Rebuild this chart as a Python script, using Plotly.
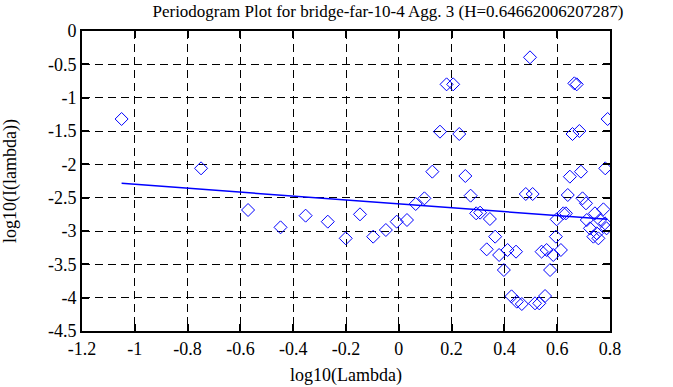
import plotly.graph_objects as go

# Periodogram points (log10(lambda), log10(I(lambda)))
log_lambda = [
    -1.050, -0.749, -0.571, -0.448, -0.353, -0.269, -0.201, -0.147, -0.097, -0.049,
    -0.008, 0.031, 0.064, 0.097, 0.127, 0.156, 0.181, 0.206, 0.229, 0.252,
    0.272, 0.293, 0.308, 0.345, 0.333, 0.365, 0.380, 0.398, 0.412, 0.444,
    0.427, 0.447, 0.466, 0.481, 0.497, 0.507, 0.516, 0.532, 0.554, 0.541,
    0.560, 0.573, 0.585, 0.595, 0.614, 0.598, 0.623, 0.633, 0.640, 0.648,
    0.658, 0.665, 0.674, 0.684, 0.690, 0.696, 0.709, 0.712, 0.724, 0.737,
    0.743, 0.750, 0.756, 0.762, 0.775, 0.781, 0.787, 0.782, 0.791,
]
log_I = [
    -1.32, -2.06, -2.685, -2.945, -2.77, -2.86, -3.11, -2.75, -3.085, -2.985,
    -2.86, -2.835, -2.595, -2.51, -2.11, -1.51, -0.80, -0.80, -1.545, -2.175,
    -2.47, -2.735, -2.725, -2.82, -3.275, -3.085, -3.36, -3.585, -3.285, -3.31,
    -3.98, -4.06, -4.095, -2.445, -0.395, -2.445, -4.085, -4.085, -3.975, -3.31,
    -3.285, -3.585, -3.36, -3.085, -3.285, -2.825, -2.735, -2.735, -2.46, -2.185,
    -1.545, -0.785, -0.80, -1.50, -2.11, -2.51, -2.585, -2.835, -2.96, -3.085,
    -2.735, -3.035, -3.11, -2.835, -2.675, -2.885, -2.96, -2.06, -1.32,
]

# Fitted regression line end points
fit_x = [-1.05, 0.79]
fit_y = [-2.285, -2.825]

x_ticks = [-1.2, -1.0, -0.8, -0.6, -0.4, -0.2, 0.0, 0.2, 0.4, 0.6, 0.8]
x_tick_labels = ["-1.2", "-1", "-0.8", "-0.6", "-0.4", "-0.2", "0", "0.2", "0.4", "0.6", "0.8"]
y_ticks = [0, -0.5, -1, -1.5, -2, -2.5, -3, -3.5, -4, -4.5]
y_tick_labels = ["0", "-0.5", "-1", "-1.5", "-2", "-2.5", "-3", "-3.5", "-4", "-4.5"]

title_text = "Periodogram Plot for bridge-far-10-4 Agg. 3 (H=0.64662006207287)"

FONT = "Liberation Serif"

fig = go.Figure()
fig.add_trace(go.Scatter(
    x=log_lambda, y=log_I, mode="markers",
    marker=dict(symbol="diamond-open", size=10, color="#0000ff", line=dict(width=1, color="#0000ff")),
    showlegend=False, hoverinfo="skip",
))
fig.add_trace(go.Scatter(
    x=fit_x, y=fit_y, mode="lines",
    line=dict(color="#0000ff", width=1.5),
    showlegend=False, hoverinfo="skip",
))

axis_common = dict(
    showline=True, linecolor="black", linewidth=2, mirror="ticks",
    ticks="inside", ticklen=7, tickwidth=2, tickcolor="black",
    showgrid=True, gridcolor="black", gridwidth=1, griddash="8px,5px",
    zeroline=False, tickfont=dict(family=FONT, size=18, color="black"),
)

fig.update_layout(
    width=673, height=387,
    font=dict(family=FONT),
    paper_bgcolor="white", plot_bgcolor="white",
    margin=dict(l=82, r=63, t=31, b=56),
    title=dict(text=title_text, x=0.5765, xanchor="center", xref="container",
               y=0.972, yanchor="middle",
               font=dict(family=FONT, size=17, color="black")),
    xaxis=dict(range=[-1.2, 0.8], tickvals=x_ticks, ticktext=x_tick_labels,
               title=dict(text="log10(Lambda)", standoff=11,
                          font=dict(family=FONT, size=18, color="black")),
               **axis_common),
    yaxis=dict(range=[-4.5, 0], tickvals=y_ticks, ticktext=y_tick_labels,
               title=dict(text="log10(I(lambda))", standoff=29,
                          font=dict(family=FONT, size=18, color="black")),
               **axis_common),
)
fig.update_xaxes(automargin=False)
fig.update_yaxes(automargin=False)

# remove the default 8px page margin so the figure fills the window exactly
fig.write_html("out.html",
               config={"displayModeBar": False, "staticPlot": True},
               post_script="document.body.style.margin='0';document.body.style.overflow='hidden';")
